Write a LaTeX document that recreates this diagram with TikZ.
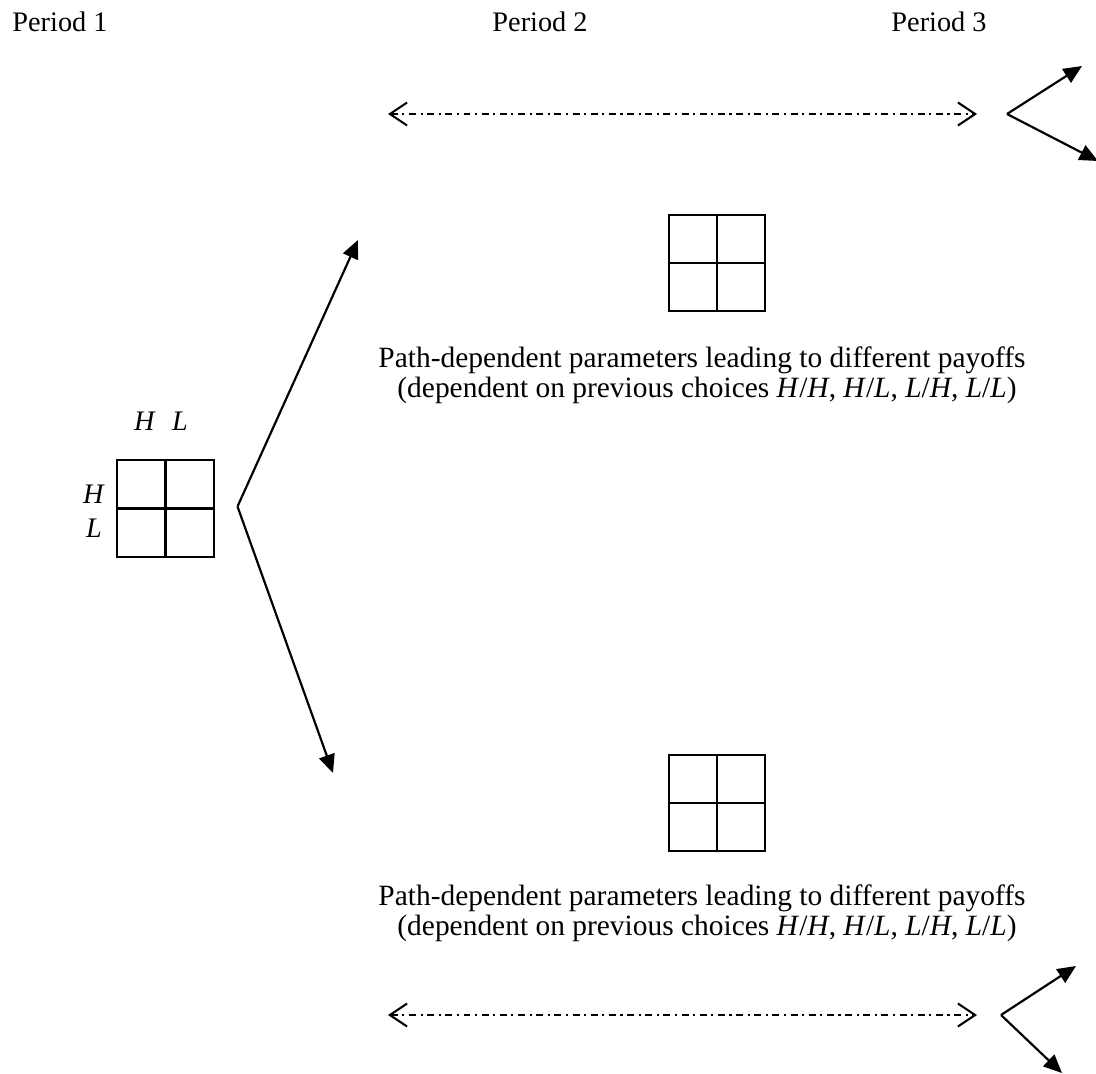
\documentclass[tikz,border=0pt]{standalone}
\usepackage{fontspec}
\setmainfont{Liberation Serif}
\usetikzlibrary{arrows.meta}
\begin{document}
\begin{tikzpicture}[x=0.4348pt,y=-0.4348pt,
  lbl/.style={inner sep=0pt, font=\fontsize{12.3}{14}\selectfont},
  txt/.style={inner sep=0pt, font=\fontsize{12.8}{15}\selectfont},
  cell/.style={draw, line width=0.95pt, minimum width=41.9pt, minimum height=41.9pt, inner sep=0pt,
    path picture={\draw[line width=0.95pt] (path picture bounding box.north) -- (path picture bounding box.south)
      (path picture bounding box.west) -- (path picture bounding box.east);}},
  dda/.style={line width=0.9pt, dash pattern=on 3pt off 2pt on 0.9pt off 2pt,
    {Straight Barb[length=7.5pt,width=10pt,line width=0.9pt]}-{Straight Barb[length=7.5pt,width=10pt,line width=0.9pt]}},
  farr/.style={line width=0.95pt, -{Triangle[length=8pt,width=7pt]}}]
\useasboundingbox (0,0) rectangle (1096,1074);
% period labels
\node[lbl, anchor=base west] (p1) at (12,31) {Period 1};
\node[lbl, anchor=base west] (p2) at (492,31) {Period 2};
\node[lbl, anchor=base west] (p3) at (891,31) {Period 3};
% top dashed arrow and fork
\coordinate (d1l) at (388,114);
\coordinate (d1r) at (977,114);
\draw[dda] (d1l) -- (d1r);
\coordinate (f1) at (1007,114);
\coordinate (f1a) at (1082,66);
\coordinate (f1b) at (1098,161);
\draw[farr] (f1) -- (f1a);
\draw[farr] (f1) -- (f1b);
% top matrix and text
\node[cell] (m2) at (717,263) {};
\node[txt, anchor=base] (t2a) at (702,367) {Path-dependent parameters leading to different payoffs};
\node[txt, anchor=base] (t2b) at (707,397) {(dependent on previous choices \textit{H}/\textit{H}, \textit{H}/\textit{L}, \textit{L}/\textit{H}, \textit{L}/\textit{L})};
% left matrix
\node[cell] (m1) at (165.5,508.5) {};
\node[lbl, anchor=base] (cH) at (145,430) {\textit{H}};
\node[lbl, anchor=base] (cL) at (180,430) {\textit{L}};
\node[lbl, anchor=base] (rH) at (94,503) {\textit{H}};
\node[lbl, anchor=base] (rL) at (94,537) {\textit{L}};
\coordinate (f0) at (237.5,506.5);
\coordinate (f0a) at (358,240);
\coordinate (f0b) at (333,773);
\draw[farr] (f0) -- (f0a);
\draw[farr] (f0) -- (f0b);
% bottom matrix and text
\node[cell] (m3) at (717,803) {};
\node[txt, anchor=base] (t3a) at (702,905) {Path-dependent parameters leading to different payoffs};
\node[txt, anchor=base] (t3b) at (707,935) {(dependent on previous choices \textit{H}/\textit{H}, \textit{H}/\textit{L}, \textit{L}/\textit{H}, \textit{L}/\textit{L})};
% bottom dashed arrow and fork
\coordinate (d2l) at (388,1015);
\coordinate (d2r) at (977,1015);
\draw[dda] (d2l) -- (d2r);
\coordinate (f2) at (1001,1015);
\coordinate (f2a) at (1076,966);
\coordinate (f2b) at (1062,1073);
\draw[farr] (f2) -- (f2a);
\draw[farr] (f2) -- (f2b);
\end{tikzpicture}
\end{document}
